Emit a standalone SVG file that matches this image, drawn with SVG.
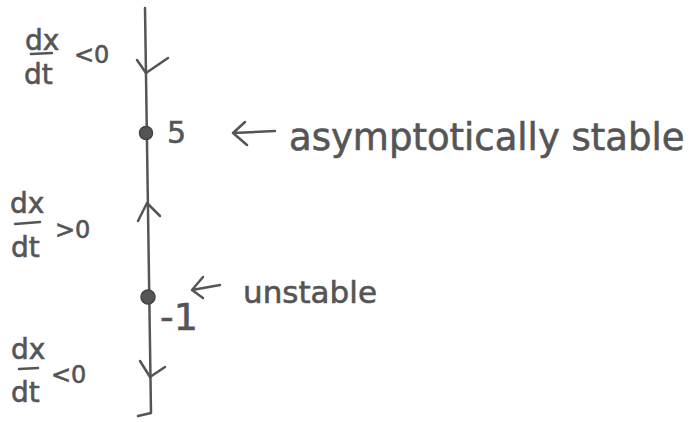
<svg xmlns="http://www.w3.org/2000/svg" width="698" height="422" viewBox="0 0 698 422">
<style>
.t{font-family:"DejaVu Sans","Liberation Sans",sans-serif;fill:#555;stroke:#555;stroke-width:0.6}
.s{fill:none;stroke:#555;stroke-width:2.5;stroke-linecap:round;stroke-linejoin:round}
.d{fill:#555;stroke:#444;stroke-width:1.5}
</style>
<rect width="698" height="422" fill="#fff"/>
<g id="connectors">
<path class="s" d="M145,8 L151,413 L138,416"/>
<path id="arrow-down-top" class="s" d="M137,60 L146,73 L168,58"/>
<path id="arrow-up" class="s" d="M138,221 L147,203 L160,216"/>
<path id="arrow-down-bottom" class="s" d="M140,361 L150,377 L165,367"/>
<path id="arrow-label-5" class="s" d="M275,131 L233,133 M245,122 L233,133 L247,145"/>
<path id="arrow-label-1" class="s" d="M220,285 L192,290 M203,277 L192,290 L203,298"/>
</g>
<g id="node-5">
<circle class="d" cx="146" cy="133" r="6.5"/>
<text class="t" x="167" y="143" font-size="30">5</text>
<text class="t" x="289" y="150" font-size="37">asymptotically stable</text>
</g>
<g id="node-minus1">
<circle class="d" cx="148" cy="297" r="7"/>
<text class="t" x="160" y="330" font-size="38">-1</text>
<text class="t" x="243" y="303" font-size="31">unstable</text>
</g>
<g id="label-top">
<text class="t" x="25" y="50" font-size="28">dx</text>
<path class="s" d="M31,54 L52,53" stroke-width="2"/>
<text class="t" x="24" y="84" font-size="28">dt</text>
<text class="t" x="74" y="63" font-size="24">&lt;0</text>
</g>
<g id="label-middle">
<text class="t" x="10" y="213" font-size="28">dx</text>
<path class="s" d="M15,224 L40,222" stroke-width="2"/>
<text class="t" x="11" y="257" font-size="28">dt</text>
<text class="t" x="55" y="238" font-size="24">&gt;0</text>
</g>
<g id="label-bottom">
<text class="t" x="11" y="359" font-size="28">dx</text>
<path class="s" d="M19,369 L38,368" stroke-width="2"/>
<text class="t" x="11" y="402" font-size="28">dt</text>
<text class="t" x="51" y="383" font-size="24">&lt;0</text>
</g>
</svg>
